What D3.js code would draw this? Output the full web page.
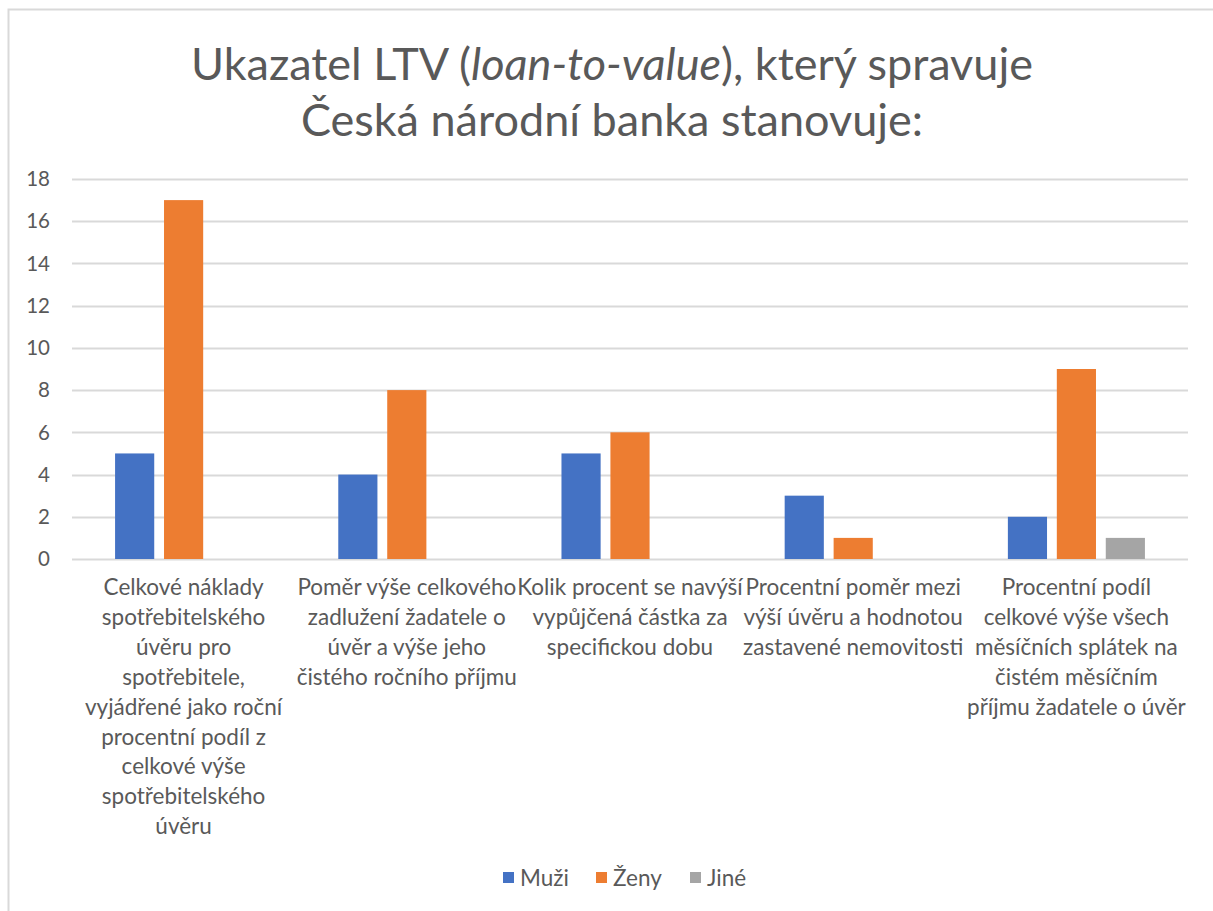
<!DOCTYPE html>
<html>
<head>
<meta charset="utf-8">
<script src="https://cdn.jsdelivr.net/npm/d3@7"></script>
<style>
  body { margin: 0; background: #fff; }
  text { font-family: Lato, "Open Sans", sans-serif; fill: #595959; }
</style>
</head>
<body>
<svg id="chart" width="1213" height="911"></svg>
<script>
//////////////////// DATA ////////////////////
const categories = ["c1", "c2", "c3", "c4", "c5"];

// category labels, already wrapped as in the original
const categoryLines = [
    ["Celkové náklady", "spotřebitelského", "úvěru pro", "spotřebitele,", "vyjádřené jako roční", "procentní podíl z", "celkové výše", "spotřebitelského", "úvěru"],
    ["Poměr výše celkového", "zadlužení žadatele o", "úvěr a výše jeho", "čistého ročního příjmu"],
    ["Kolik procent se navýší", "vypůjčená částka za", "specifickou dobu"],
    ["Procentní poměr mezi", "výší úvěru a hodnotou", "zastavené nemovitosti"],
    ["Procentní podíl", "celkové výše všech", "měsíčních splátek na", "čistém měsíčním", "příjmu žadatele o úvěr"]
];

const seriesNames = ["Muži", "Ženy", "Jiné"];
const seriesColors = ["#4472C4", "#ED7D31", "#A5A5A5"];

const muzi = [5, 4, 5, 3, 2];
const zeny = [17, 8, 6, 1, 9];
const jine = [0, 0, 0, 0, 1];

const yTicks = [0, 2, 4, 6, 8, 10, 12, 14, 16, 18];

//////////////////// SIZES ////////////////////
const svg = d3.select("#chart");
const plot = { left: 72, right: 1188, top: 179, bottom: 559 };

// chart border (Excel chart area)
svg.append("rect")
    .attr("x", 8.5).attr("y", 9.5)
    .attr("width", 1230).attr("height", 930)
    .attr("fill", "none")
    .attr("stroke", "#D9D9D9")
    .attr("stroke-width", 2);

//////////////////// TITLE ////////////////////
const title = svg.append("text")
    .attr("text-anchor", "middle")
    .attr("font-size", 45);
title.append("tspan").attr("x", 612).attr("y", 80)
    .text("Ukazatel LTV (");
title.append("tspan").attr("font-style", "italic").text("loan-to-value");
title.append("tspan").text("), který spravuje");
title.append("tspan").attr("x", 612).attr("y", 136)
    .text("Česká národní banka stanovuje:");

//////////////////// SCALES ////////////////////
const x0 = d3.scaleBand()
    .domain(categories)
    .range([plot.left, plot.right])
    .padding(0);

const x1 = d3.scaleBand()
    .domain(seriesNames)
    .range([0, x0.bandwidth()])
    .paddingInner(0.2)
    .paddingOuter(0.88);

const y = d3.scaleLinear()
    .domain([0, 18])
    .range([plot.bottom, plot.top]);

//////////////////// GRID + Y AXIS ////////////////////
svg.append("g")
    .selectAll("line")
    .data(yTicks)
    .join("line")
    .attr("x1", plot.left).attr("x2", plot.right)
    .attr("y1", d => Math.round(y(d)) + 0.5)
    .attr("y2", d => Math.round(y(d)) + 0.5)
    .attr("stroke", "#D9D9D9")
    .attr("stroke-width", 2);

svg.append("g")
    .selectAll("text")
    .data(yTicks)
    .join("text")
    .attr("x", 50)
    .attr("y", d => y(d))
    .attr("dy", "0.35em")
    .attr("text-anchor", "end")
    .attr("font-size", 20.5)
    .text(d => d);

//////////////////// BARS ////////////////////
const rows = categories.map((c, i) => ({
    cat: c,
    values: [muzi[i], zeny[i], jine[i]]
}));

svg.append("g")
    .selectAll("g")
    .data(rows)
    .join("g")
    .attr("transform", d => `translate(${x0(d.cat)},0)`)
    .selectAll("rect")
    .data(d => d.values.map((v, k) => ({ name: seriesNames[k], value: v, color: seriesColors[k] })))
    .join("rect")
    .attr("x", d => x1(d.name))
    .attr("width", x1.bandwidth())
    .attr("y", d => y(d.value))
    .attr("height", d => y(0) - y(d.value))
    .attr("fill", d => d.color);

//////////////////// CATEGORY LABELS ////////////////////
const catLabels = svg.append("g")
    .selectAll("text")
    .data(categories)
    .join("text")
    .attr("text-anchor", "middle")
    .attr("font-size", 22.5);

catLabels.selectAll("tspan")
    .data((d, i) => categoryLines[i].map(t => ({ t, cat: d })))
    .join("tspan")
    .attr("x", d => x0(d.cat) + x0.bandwidth() / 2)
    .attr("y", (d, j) => 595 + j * 29.9)
    .text(d => d.t);

//////////////////// LEGEND ////////////////////
const legendX = [503, 596, 690];
const legend = svg.append("g")
    .selectAll("g")
    .data(seriesNames)
    .join("g")
    .attr("transform", (d, i) => `translate(${legendX[i]},872)`);

legend.append("rect")
    .attr("width", 11).attr("height", 11)
    .attr("fill", (d, i) => seriesColors[i]);

legend.append("text")
    .attr("x", 17)
    .attr("y", 6)
    .attr("dy", "0.35em")
    .attr("font-size", 22.5)
    .text(d => d);
</script>
</body>
</html>
